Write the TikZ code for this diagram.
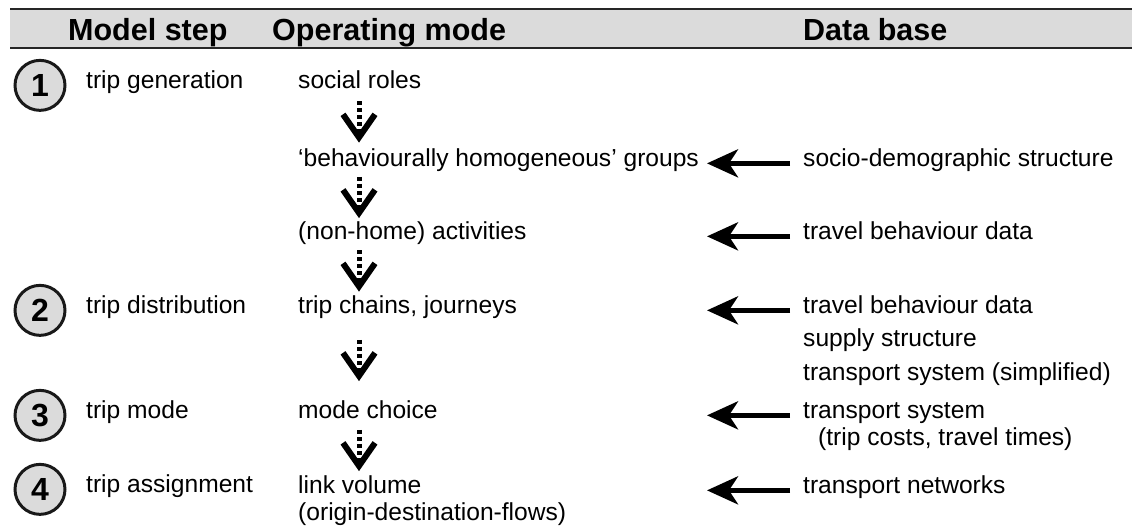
\documentclass[tikz,border=0pt]{standalone}
\usepackage{fontspec}
\setmainfont{Liberation Sans}
\usetikzlibrary{calc,arrows.meta}
\tikzset{
	txt/.style={anchor=base west, inner sep=0pt, font=\fontsize{24.6}{28}\selectfont},
	headtxt/.style={anchor=base west, inner sep=0pt, font=\fontsize{30.5}{36}\selectfont\bfseries},
	stepnum/.style={circle, draw=black!90, line width=3pt, fill=black!14, minimum size=50pt, inner sep=0pt, font=\fontsize{32}{34}\selectfont\bfseries},
	feed/.style={line width=5pt, -{Stealth[length=31pt, width=28pt, inset=9pt]}},
	flow/.style={line width=5pt, dash pattern=on 4pt off 3pt},
	chev/.pic={\draw[line width=6pt, line join=miter] (-16,-23) -- (0,0) -- (16,-23);},
}
\def\flowarrow#1{\draw[flow] ($(ax |- #1)+(0,-23)$) -- ($(ax |- #1)+(0,8)$); \pic at ($(ax |- #1)+(0,13)$) {chev};}

\begin{document}
\begin{tikzpicture}[x=1pt, y=-1pt]
			%%%%% START %%%%%
			\useasboundingbox (0,0) rectangle (1132,525);
			
			\fill[black!14] (10,9) rectangle (1132,48);
			\draw[line width=2.5pt, black!85] (10,9) -- (1132,9);
			\draw[line width=2.5pt, black!85] (10,48) -- (1132,48);
			\node[headtxt] (hstep) at (68,40) {Model step};
			\node[headtxt] (hmode) at (272,40) {Operating mode};
			\node[headtxt] (hdata) at (803,40) {Data base};
			
			\coordinate (ax) at (359,0);
			\coordinate (tipx) at (707,0);
			
			\node[txt] (t1) at (86,88) {trip generation};
			\node[txt] (t2) at (86,313) {trip distribution};
			\node[txt] (t3) at (86,418) {trip mode};
			\node[txt] (t4) at (86,492) {trip assignment};
			
			\node[stepnum] (n1) at (40,0 |- t1.mid) {1};
			\node[stepnum] (n2) at (40,0 |- t2.mid) {2};
			\node[stepnum] (n3) at (40,0 |- t3.mid) {3};
			\node[stepnum] (n4) at (40,0 |- t4.mid) {4};
			
			\node[txt] (mroles) at (298,88) {social roles};
			\node[txt] (mgroups) at (298,166) {‘behaviourally homogeneous’ groups};
			\node[txt] (mact) at (298,239) {(non-home) activities};
			\node[txt] (mchains) at (298,313) {trip chains, journeys};
			\node[txt] (mchoice) at (298,418) {mode choice};
			\node[txt] (mvol) at (298,493) {link volume};
			\node[txt] (mflows) at (298,520) {(origin-destination-flows)};
			
			\node[txt] (dsocio) at (803,166) {socio-demographic structure};
			\node[txt] (dtravA) at (803,239) {travel behaviour data};
			\node[txt] (dtravB) at (803,313) {travel behaviour data};
			\node[txt] (dsupply) at (803,346) {supply structure};
			\node[txt] (dsimple) at (803,380) {transport system (simplified)};
			\node[txt] (dsys) at (803,418) {transport system};
			\node[txt] (dcosts) at (818,445) {(trip costs, travel times)};
			\node[txt] (dnet) at (803,493) {transport networks};
			
			\coordinate (g1) at ($(mroles.mid west)!.5!(mgroups.mid west)$);
			\coordinate (g2) at ($(mgroups.mid west)!.5!(mact.mid west)$);
			\coordinate (g3) at ($(mact.mid west)!.5!(mchains.mid west)$);
			\coordinate (g4) at ($(mchains.mid west)!.5!(mchoice.mid west)$);
			\coordinate (g5) at ($(mchoice.mid west)!.5!(mvol.mid west)$);
			\flowarrow{g1}
			\flowarrow{g2}
			\flowarrow{g3}
			\flowarrow{g4}
			\flowarrow{g5}
			
			\draw[feed] ([xshift=-13pt]dsocio.mid west) -- (tipx |- dsocio.mid west);
			\draw[feed] ([xshift=-13pt]dtravA.mid west) -- (tipx |- dtravA.mid west);
			\draw[feed] ([xshift=-13pt]dtravB.mid west) -- (tipx |- dtravB.mid west);
			\draw[feed] ([xshift=-13pt]dsys.mid west) -- (tipx |- dsys.mid west);
			\draw[feed] ([xshift=-13pt]dnet.mid west) -- (tipx |- dnet.mid west);
			%%%%% END %%%%%
		\end{tikzpicture}
\end{document}
